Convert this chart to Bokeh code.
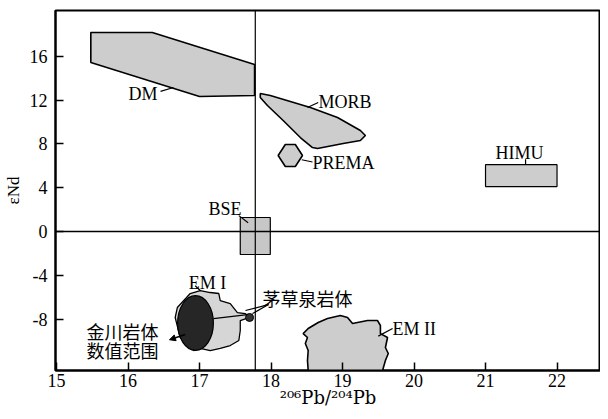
import math
from bokeh.plotting import figure
from bokeh.models import Range1d, FixedTicker, Span, Label, Arrow, NormalHead
from bokeh.embed import file_html
from bokeh.resources import INLINE

# ---------------- data ----------------
x_ticks = [15, 16, 17, 18, 19, 20, 21, 22]
y_ticks = [-8, -4, 0, 4, 8, 12, 16]
y_tick_labels = ["-8", "-4", "0", "4", "8", "12", "16"]

bse_pb = 17.78      # vertical reference line (BSE 206Pb/204Pb)
bse_nd = 0.0        # horizontal reference line (BSE eNd)

dm_x = [15.48, 16.34, 17.77, 17.77, 17.00, 15.48]
dm_y = [18.17, 18.17, 15.25, 12.42, 12.33, 15.43]

morb_x = [17.85, 17.99, 18.55, 18.93, 19.25, 19.32, 19.25, 19.01, 18.65, 18.58, 18.41, 18.17, 17.95, 17.85]
morb_y = [12.60, 12.42, 11.32, 10.41, 9.22, 8.77, 8.31, 8.04, 7.58, 7.67, 8.58, 10.14, 11.51, 12.24]

prema_x = [18.10, 18.20, 18.34, 18.44, 18.34, 18.20]
prema_y = [6.94, 7.95, 7.95, 6.94, 5.94, 5.94]

himu_x = [21.0, 22.0, 22.0, 21.0]
himu_y = [4.1, 4.1, 6.1, 6.1]

bse_x = [17.57, 17.99, 17.99, 17.57]
bse_y = [-2.1, -2.1, 1.28, 1.28]

em1_x = [16.87, 17.01, 17.15, 17.27, 17.29, 17.43, 17.53, 17.64, 17.70, 17.57, 17.57, 17.55,
         17.43, 17.29, 17.15, 17.01, 16.92, 16.73, 16.66, 16.69, 16.78]
em1_y = [-5.66, -5.39, -5.57, -5.66, -6.30, -6.58, -7.40, -7.49, -7.85, -8.13, -9.04, -9.95,
         -10.41, -10.68, -10.87, -10.68, -10.87, -9.68, -7.85, -6.94, -6.30]

em2_x = [18.52, 18.51, 18.52, 18.48, 18.51, 18.45, 18.52, 18.66, 18.79, 18.97, 19.07, 19.14,
         19.21, 19.35, 19.49, 19.53, 19.53, 19.63, 19.60, 19.64, 19.60, 19.56, 19.56, 18.52]
em2_y = [-12.69, -11.78, -10.87, -10.23, -9.68, -9.32, -8.86, -8.31, -7.95, -7.67, -7.85, -8.40,
         -8.31, -8.13, -8.13, -8.58, -9.32, -9.68, -10.59, -11.14, -11.78, -12.69, -13.5, -13.5]

jinchuan_x = 16.944
jinchuan_y = -8.36
jinchuan_w = 0.50
jinchuan_h = 5.0

maocaoquan_x = [17.70]
maocaoquan_y = [-7.85]

# ---------------- figure ----------------
X0, X1 = 14.986, 22.608
Y0, Y1 = -12.69, 20.18

p = figure(width=600, height=411, output_backend="svg", toolbar_location=None,
           x_range=Range1d(X0, X1), y_range=Range1d(Y0, Y1),
           min_border_left=55, min_border_right=0, min_border_top=10, min_border_bottom=41)
p.background_fill_color = "white"
p.border_fill_color = "white"
p.outline_line_color = "black"
p.outline_line_width = 2
p.xgrid.visible = False
p.ygrid.visible = False

SERIF = "Liberation Serif"
CJK = "Noto Sans CJK SC"

for ax in (p.xaxis[0], p.yaxis[0]):
    ax.axis_line_width = 2
    ax.axis_line_color = "black"
    ax.major_tick_in = 8
    ax.major_tick_out = 0
    ax.major_tick_line_width = 1.5
    ax.minor_tick_line_color = None
    ax.major_label_text_font = SERIF
    ax.major_label_text_font_size = "18px"
    ax.major_label_text_color = "black"
    ax.axis_label_text_font_style = "normal"
    ax.axis_label_text_color = "black"

p.xaxis[0].ticker = FixedTicker(ticks=x_ticks)
p.yaxis[0].ticker = FixedTicker(ticks=y_ticks)
p.yaxis[0].major_label_overrides = {t: s for t, s in zip(y_ticks, y_tick_labels)}
p.xaxis[0].major_label_standoff = 3
p.yaxis[0].major_label_standoff = 8

# axis titles
p.xaxis[0].axis_label = "²⁰⁶Pb/²⁰⁴Pb"
p.xaxis[0].axis_label_text_font = "DejaVu Serif"
p.xaxis[0].axis_label_text_font_size = "18px"
p.xaxis[0].axis_label_standoff = -3

p.yaxis[0].axis_label = "εNd"
p.yaxis[0].axis_label_text_font = SERIF
p.yaxis[0].axis_label_text_font_size = "17px"
p.yaxis[0].axis_label_standoff = 4

p.add_layout(Span(location=bse_pb, dimension="height", line_color="black", line_width=1.2))
p.add_layout(Span(location=bse_nd, dimension="width", line_color="black", line_width=1.5))

FILL = "#cdcdcd"
shape_kw = dict(fill_color=FILL, line_color="black", line_width=1.6)
p.patch(dm_x, dm_y, **shape_kw)
p.patch(morb_x, morb_y, **shape_kw)
p.patch(prema_x, prema_y, **shape_kw)
p.patch(himu_x, himu_y, fill_color=FILL, line_color="black", line_width=1.2)
p.patch(bse_x, bse_y, fill_color="#bdbdbd", fill_alpha=0.85, line_color="black", line_width=1.2)
p.patch(em1_x, em1_y, fill_color="#d6d6d6", line_color="black", line_width=1.3)
p.patch(em2_x, em2_y, **shape_kw)
p.ellipse(x=[jinchuan_x], y=[jinchuan_y], width=[jinchuan_w], height=[jinchuan_h],
          fill_color="#262626", line_color="black", line_width=1.2)
p.scatter(maocaoquan_x, maocaoquan_y, size=8, fill_color="#333333", line_color="black")

# leader lines
leaders = [
    ([16.455, 16.636], [12.79, 13.15]),   # DM
    ([18.51, 18.66], [11.32, 11.78]),     # MORB
    ([18.43, 18.58], [6.55, 6.35]),       # PREMA
    ([21.56, 21.56], [6.1, 6.6]),         # HIMU
    ([17.55, 17.68], [1.45, 0.80]),       # BSE
    ([16.94, 17.01], [-4.95, -5.39]),     # EM I
    ([19.50, 19.70], [-9.55, -8.86]),     # EM II
    ([17.196, 17.671], [-7.95, -7.58]),   # ellipse to dot
    ([17.741, 17.965], [-7.49, -6.67]),   # dot to label
    ([17.643, 17.965], [-7.21, -6.67]),
]
for lx, ly in leaders:
    p.line(lx, ly, line_color="black", line_width=1.2)

p.add_layout(Arrow(end=NormalHead(size=6, fill_color="black", line_color="black"),
                   x_start=16.80, y_start=-9.41, x_end=16.58, y_end=-9.88,
                   line_color="black", line_width=1.5))

def lab(x, y, t, font=SERIF, size="18px"):
    p.add_layout(Label(x=x, y=y, text=t, text_font=font, text_font_size=size,
                       text_align="left", text_baseline="middle", text_color="black"))

lab(16.007, 12.60, "DM")
lab(18.664, 11.87, "MORB")
lab(18.58, 6.30, "PREMA")
lab(21.14, 7.21, "HIMU")
lab(17.126, 2.10, "BSE")
lab(16.85, -4.66, "EM I")
lab(19.70, -8.86, "EM II")
lab(17.88, -6.03, "茅草泉岩体", font=CJK)
lab(15.42, -9.04, "金川岩体", font=CJK)
lab(15.42, -10.78, "数值范围", font=CJK)

open("out.html", "w").write(file_html(p, INLINE))
